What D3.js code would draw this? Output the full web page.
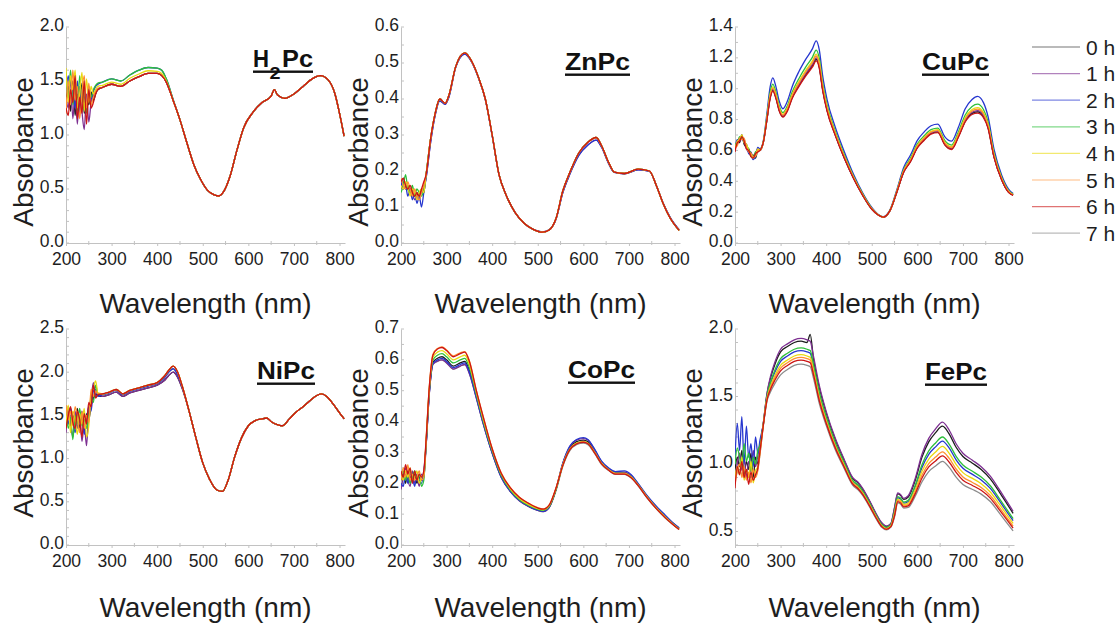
<!DOCTYPE html>
<html>
<head>
<meta charset="utf-8">
<script src="https://cdn.jsdelivr.net/npm/d3@7"></script>
<style>
  html, body { margin: 0; padding: 0; background: #ffffff; }
  svg { display: block; font-family: "Liberation Sans", Arial, sans-serif; }
</style>
</head>
<body>
<svg id="chart" width="1119" height="623"></svg>
<script>
// ---- shared labels ----
const hours = ["0 h", "1 h", "2 h", "3 h", "4 h", "5 h", "6 h", "7 h"];
const hourColors = ["#1c1c1c", "#7d2f91", "#2636cf", "#2cbf3a", "#e9da10", "#ff9030", "#cc1515", "#8c8c8c"];
const xTicks = [200, 300, 400, 500, 600, 700, 800];

// ---- H2Pc ----
const h2pcWl = [200,205,210,215,220,225,230,235,240,245,250,255,260,265,270,
  280,300,320,340,360,380,400,410,420,435,
  450,465,480,495,510,525,535,545,560,575,590,610,630,650,657,664,680,700,720,740,758,775,790,800,810];
const h2pcNoise0 = [1.30,1.45,1.22,1.50,1.18,1.38,1.25,1.48,1.20,1.35,1.28,1.40,1.32,1.38,1.42];
const h2pcNoise1 = [1.35,1.25,1.52,1.15,1.40,1.10,1.45,1.22,1.05,1.38,1.12,1.30,1.36,1.40,1.43];
const h2pcNoise2 = [1.40,1.55,1.30,1.45,1.25,1.50,1.20,1.42,1.35,1.28,1.45,1.33,1.40,1.45,1.47];
const h2pcNoise3 = [1.58,1.35,1.60,1.28,1.48,1.22,1.55,1.30,1.45,1.20,1.40,1.35,1.42,1.46,1.48];
const h2pcNoise4 = [1.62,1.30,1.55,1.42,1.60,1.25,1.38,1.58,1.22,1.52,1.30,1.45,1.38,1.42,1.45];
const h2pcNoise5 = [1.20,1.50,1.28,1.60,1.32,1.45,1.15,1.40,1.55,1.25,1.48,1.28,1.35,1.40,1.43];
const h2pcNoise6 = [1.25,1.18,1.42,1.30,1.55,1.15,1.35,1.20,1.50,1.10,1.42,1.25,1.30,1.38,1.42];
const h2pcNoise7 = [1.32,1.40,1.28,1.35,1.30,1.42,1.26,1.36,1.30,1.34,1.32,1.38,1.36,1.40,1.42];
const h2pcUvLow  = [1.44,1.47,1.45,1.50,1.54,1.57,1.57,1.55,1.49,1.32];
const h2pcUvMid  = [1.46,1.49,1.47,1.525,1.565,1.595,1.59,1.57,1.50,1.32];
const h2pcUvHigh = [1.49,1.52,1.50,1.555,1.60,1.625,1.62,1.60,1.52,1.33];
const h2pcVis = [1.14,0.93,0.73,0.59,0.49,0.445,0.435,0.47,0.62,0.86,1.07,1.21,1.30,1.36,1.42,1.37,1.34,1.38,1.45,1.52,1.55,1.51,1.38,1.20,0.99];

// ---- ZnPc ----
const znpcWl = [200,205,210,215,220,225,230,235,240,245,250,
  255,265,275,285,297,305,320,340,355,370,385,400,415,430,450,470,490,510,525,540,
  555,570,590,610,628,640,655,668,690,720,745,760,775,790,810];
const znpcNoise0 = [0.16,0.17,0.15,0.16,0.14,0.15,0.13,0.14,0.12,0.15,0.14];
const znpcNoise1 = [0.15,0.18,0.16,0.15,0.15,0.14,0.12,0.13,0.13,0.14,0.15];
const znpcNoise2 = [0.17,0.15,0.16,0.13,0.15,0.12,0.14,0.11,0.13,0.10,0.14];
const znpcNoise3 = [0.14,0.16,0.19,0.15,0.14,0.16,0.13,0.15,0.14,0.13,0.15];
const znpcNoise4 = [0.16,0.15,0.17,0.16,0.13,0.15,0.14,0.12,0.14,0.15,0.14];
const znpcNoise5 = [0.18,0.16,0.15,0.17,0.15,0.13,0.15,0.13,0.12,0.14,0.16];
const znpcNoise6 = [0.17,0.18,0.16,0.15,0.16,0.14,0.13,0.14,0.13,0.15,0.17];
const znpcNoise7 = [0.16,0.17,0.16,0.15,0.15,0.14,0.14,0.13,0.13,0.14,0.15];
const znpcBody = [0.19,0.29,0.36,0.40,0.388,0.41,0.49,0.528,0.505,0.46,
  0.40,0.30,0.19,0.135,0.085,0.055,0.038,0.030,0.036,0.068,
  0.145,0.195,0.25,0.28,0.293,0.27,0.225,0.197,0.193,0.205,
  0.200,0.16,0.11,0.07,0.035];
const znpcBodyLow = [0.18,0.28,0.355,0.395,0.385,0.405,0.488,0.525,0.503,0.458,
  0.398,0.298,0.19,0.135,0.085,0.055,0.038,0.031,0.037,0.066,
  0.14,0.19,0.243,0.272,0.286,0.266,0.222,0.196,0.192,0.203,
  0.199,0.16,0.111,0.072,0.037];

// ---- CuPc ----
const cupcWl = [200,205,210,215,220,225,230,235,240,245,250,
  255,262,270,277,283,290,297,305,315,325,340,355,370,378,385,392,402,420,440,460,
  480,500,515,525,540,555,570,585,600,615,630,645,660,675,690,705,720,732,745,755,
  768,785,800,810];
const cupcNoise0 = [0.60,0.66,0.65,0.70,0.64,0.62,0.61,0.56,0.57,0.55,0.60];
const cupcNoise1 = [0.63,0.64,0.68,0.67,0.67,0.61,0.59,0.59,0.55,0.58,0.61];
const cupcNoise2 = [0.62,0.67,0.66,0.69,0.65,0.64,0.58,0.57,0.54,0.56,0.62];
const cupcNoise3 = [0.64,0.65,0.69,0.68,0.66,0.63,0.61,0.58,0.56,0.59,0.60];
const cupcNoise4 = [0.61,0.66,0.67,0.70,0.65,0.64,0.60,0.57,0.55,0.57,0.61];
const cupcNoise5 = [0.62,0.63,0.68,0.67,0.68,0.62,0.59,0.58,0.56,0.56,0.60];
const cupcNoise6 = [0.59,0.65,0.66,0.69,0.66,0.61,0.60,0.56,0.55,0.58,0.59];
const cupcNoise7 = [0.62,0.65,0.67,0.68,0.66,0.63,0.60,0.58,0.56,0.57,0.60];
const cupcBody0 = [0.60,0.65,0.80,0.94,0.99,0.94,0.86,0.82,0.86,0.94,
  1.02,1.09,1.15,1.19,1.14,1.00,0.86,0.70,0.55,0.42,
  0.31,0.22,0.18,0.168,0.21,0.33,0.46,0.53,0.62,0.67,
  0.71,0.72,0.64,0.61,0.69,0.79,0.84,0.85,0.82,0.75,
  0.56,0.41,0.33,0.31];
const cupcBody1 = [0.60,0.65,0.803,0.946,0.996,0.946,0.865,0.824,0.865,0.946,
  1.027,1.098,1.159,1.20,1.149,1.007,0.866,0.704,0.553,0.422,
  0.311,0.221,0.18,0.168,0.21,0.331,0.462,0.533,0.624,0.674,
  0.714,0.724,0.644,0.614,0.695,0.796,0.847,0.858,0.827,0.756,
  0.564,0.412,0.332,0.311];
const cupcBody2 = [0.61,0.66,0.84,1.01,1.07,1.01,0.92,0.87,0.92,1.01,
  1.11,1.19,1.26,1.31,1.25,1.09,0.93,0.75,0.59,0.445,
  0.325,0.23,0.183,0.17,0.215,0.345,0.49,0.57,0.665,0.72,
  0.76,0.77,0.69,0.66,0.75,0.87,0.93,0.95,0.91,0.82,
  0.61,0.44,0.35,0.32];
const cupcBody3 = [0.605,0.655,0.82,0.975,1.03,0.975,0.89,0.845,0.89,0.975,
  1.065,1.14,1.205,1.25,1.195,1.045,0.895,0.725,0.57,0.432,
  0.318,0.225,0.182,0.169,0.212,0.338,0.475,0.55,0.643,0.695,
  0.735,0.745,0.665,0.635,0.72,0.83,0.885,0.90,0.865,0.785,
  0.585,0.425,0.34,0.315];
const cupcBody4 = [0.603,0.653,0.81,0.96,1.012,0.96,0.877,0.834,0.877,0.96,
  1.045,1.118,1.18,1.224,1.17,1.025,0.88,0.714,0.561,0.427,
  0.314,0.223,0.181,0.168,0.211,0.334,0.468,0.541,0.633,0.684,
  0.724,0.734,0.654,0.624,0.707,0.812,0.865,0.878,0.845,0.77,
  0.574,0.418,0.336,0.313];
const cupcBody5 = [0.602,0.652,0.807,0.953,1.004,0.953,0.871,0.829,0.871,0.953,
  1.036,1.108,1.17,1.212,1.16,1.016,0.873,0.709,0.557,0.425,
  0.313,0.222,0.18,0.168,0.211,0.333,0.465,0.537,0.628,0.679,
  0.719,0.729,0.649,0.619,0.701,0.804,0.856,0.868,0.836,0.763,
  0.569,0.415,0.334,0.312];
const cupcBody6 = [0.60,0.65,0.797,0.934,0.984,0.934,0.855,0.816,0.855,0.934,
  1.013,1.082,1.141,1.18,1.131,0.993,0.854,0.696,0.547,0.418,
  0.309,0.219,0.18,0.168,0.21,0.329,0.458,0.527,0.616,0.666,
  0.706,0.716,0.636,0.606,0.685,0.784,0.833,0.842,0.813,0.744,
  0.556,0.408,0.328,0.309];
const cupcBody7 = [0.60,0.65,0.80,0.942,0.992,0.942,0.862,0.821,0.862,0.942,
  1.022,1.093,1.153,1.192,1.142,1.002,0.861,0.701,0.551,0.421,
  0.31,0.22,0.18,0.168,0.21,0.33,0.46,0.531,0.621,0.671,
  0.711,0.721,0.641,0.611,0.691,0.791,0.841,0.852,0.821,0.751,
  0.561,0.41,0.33,0.31];

// ---- NiPc ----
const nipcWl = [200,205,210,215,220,225,230,235,240,245,250,255,260,265,270,
  280,295,310,325,340,360,380,400,415,425,435,445,455,
  470,485,500,515,530,543,555,570,585,600,615,630,640,652,665,675,690,705,720,735,750,760,772,785,800,810];
const nipcNoise0 = [1.45,1.55,1.38,1.50,1.42,1.58,1.35,1.48,1.30,1.52,1.45,1.62,1.70,1.75,1.73];
const nipcNoise1 = [1.30,1.60,1.42,1.25,1.55,1.35,1.50,1.20,1.40,1.15,1.55,1.68,1.88,1.72,1.74];
const nipcNoise2 = [1.50,1.40,1.58,1.45,1.30,1.52,1.42,1.55,1.28,1.45,1.60,1.55,1.78,1.80,1.72];
const nipcNoise3 = [1.55,1.35,1.48,1.22,1.50,1.40,1.58,1.38,1.45,1.35,1.50,1.70,1.65,1.85,1.75];
const nipcNoise4 = [1.40,1.62,1.30,1.55,1.45,1.28,1.52,1.40,1.58,1.25,1.38,1.75,1.82,1.90,1.76];
const nipcNoise5 = [1.62,1.45,1.55,1.38,1.60,1.48,1.30,1.55,1.35,1.50,1.42,1.80,1.72,1.78,1.75];
const nipcNoise6 = [1.35,1.50,1.60,1.42,1.35,1.55,1.45,1.25,1.52,1.40,1.65,1.60,1.85,1.70,1.74];
const nipcNoise7 = [1.48,1.42,1.50,1.46,1.44,1.48,1.45,1.42,1.44,1.46,1.52,1.62,1.70,1.74,1.74];
const nipcUvLow  = [1.72,1.74,1.77,1.72,1.76,1.79,1.82,1.85,1.90,1.96,2.00,1.94,1.81];
const nipcUvMid  = [1.74,1.76,1.79,1.74,1.78,1.81,1.84,1.87,1.93,2.00,2.04,1.97,1.83];
const nipcUvHigh = [1.75,1.77,1.80,1.75,1.79,1.82,1.85,1.88,1.95,2.02,2.07,2.00,1.84];
const nipcVis = [1.55,1.24,0.95,0.76,0.64,0.62,0.74,1.02,1.24,1.38,
  1.44,1.46,1.47,1.42,1.39,1.38,1.46,1.54,1.60,1.67,
  1.73,1.75,1.72,1.64,1.53,1.46];

// ---- CoPc ----
const copcWl = [200,205,210,215,220,225,230,235,240,245,250,
  255,262,270,280,290,300,315,330,340,350,365,380,400,420,440,460,480,500,512,525,
  540,555,570,585,600,610,625,640,655,670,690,705,720,740,760,780,795,810];
const copcNoise0 = [0.21,0.23,0.20,0.24,0.22,0.21,0.23,0.20,0.22,0.21,0.23];
const copcNoise1 = [0.18,0.22,0.25,0.21,0.19,0.24,0.20,0.22,0.19,0.23,0.22];
const copcNoise2 = [0.20,0.19,0.23,0.20,0.24,0.22,0.19,0.23,0.21,0.20,0.24];
const copcNoise3 = [0.22,0.24,0.21,0.23,0.20,0.22,0.24,0.21,0.23,0.19,0.21];
const copcNoise4 = [0.23,0.21,0.24,0.22,0.25,0.21,0.22,0.24,0.20,0.22,0.23];
const copcNoise5 = [0.21,0.25,0.22,0.26,0.21,0.23,0.21,0.22,0.24,0.21,0.22];
const copcNoise6 = [0.24,0.22,0.26,0.23,0.25,0.20,0.24,0.21,0.23,0.22,0.24];
const copcNoise7 = [0.22,0.23,0.22,0.22,0.23,0.22,0.22,0.23,0.22,0.21,0.22];
const copcBody0 = [0.325,0.495,0.592,0.605,0.61,0.60,0.58,0.59,0.595,0.565,
  0.484,0.40,0.301,0.222,0.175,0.145,0.126,0.114,0.11,0.123,
  0.18,0.262,0.314,0.335,0.34,0.335,0.303,0.267,0.247,0.234,
  0.234,0.222,0.197,0.157,0.122,0.092,0.072,0.054];
const copcBody1 = [0.32,0.488,0.585,0.596,0.60,0.59,0.57,0.58,0.585,0.555,
  0.478,0.395,0.298,0.219,0.173,0.143,0.125,0.112,0.108,0.122,
  0.181,0.265,0.318,0.34,0.345,0.34,0.308,0.27,0.249,0.236,
  0.236,0.225,0.198,0.158,0.124,0.094,0.073,0.055];
const copcBody2 = [0.32,0.49,0.588,0.60,0.605,0.595,0.575,0.585,0.59,0.56,
  0.48,0.397,0.299,0.22,0.174,0.144,0.126,0.113,0.109,0.123,
  0.182,0.266,0.32,0.342,0.348,0.342,0.31,0.272,0.25,0.238,
  0.24,0.228,0.2,0.16,0.126,0.096,0.074,0.056];
const copcBody3 = [0.33,0.50,0.60,0.615,0.62,0.61,0.59,0.60,0.605,0.575,
  0.49,0.405,0.305,0.225,0.178,0.147,0.128,0.116,0.112,0.125,
  0.18,0.26,0.31,0.33,0.335,0.33,0.30,0.265,0.245,0.232,
  0.232,0.22,0.195,0.155,0.12,0.09,0.07,0.052];
const copcBody4 = [0.335,0.505,0.608,0.625,0.63,0.62,0.60,0.61,0.615,0.585,
  0.496,0.41,0.309,0.229,0.181,0.15,0.131,0.118,0.114,0.127,
  0.182,0.26,0.31,0.33,0.335,0.33,0.30,0.265,0.245,0.232,
  0.232,0.22,0.195,0.155,0.12,0.09,0.07,0.052];
const copcBody5 = [0.34,0.51,0.618,0.637,0.642,0.632,0.613,0.623,0.627,0.597,
  0.503,0.418,0.313,0.233,0.186,0.155,0.135,0.121,0.117,0.13,
  0.185,0.26,0.309,0.329,0.334,0.329,0.299,0.264,0.244,0.231,
  0.231,0.219,0.194,0.154,0.119,0.089,0.069,0.051];
const copcBody6 = [0.34,0.51,0.615,0.635,0.64,0.63,0.61,0.62,0.625,0.595,
  0.502,0.417,0.312,0.232,0.185,0.154,0.135,0.12,0.116,0.129,
  0.184,0.258,0.308,0.328,0.333,0.328,0.298,0.263,0.243,0.23,
  0.23,0.218,0.193,0.153,0.118,0.088,0.068,0.05];
const copcBody7 = [0.322,0.49,0.585,0.595,0.60,0.59,0.57,0.58,0.585,0.556,
  0.477,0.394,0.297,0.219,0.173,0.143,0.124,0.112,0.108,0.121,
  0.176,0.255,0.305,0.325,0.33,0.325,0.296,0.261,0.242,0.229,
  0.229,0.217,0.192,0.152,0.117,0.087,0.068,0.05];

// ---- FePc ----
const fepcWl = [200,205,210,215,220,225,230,235,240,245,250,255,
  262,270,278,288,300,315,330,345,358,365,372,385,400,420,440,458,470,480,495,510,
  522,532,542,550,557,563,570,580,595,610,625,640,655,670,685,700,720,740,760,780,795,810];
const fepcNoise0 = [0.95,1.05,0.98,1.10,0.92,1.02,0.96,1.08,0.90,1.05,1.00,1.12];
const fepcNoise1 = [0.92,1.00,1.08,0.95,1.05,0.90,1.02,0.94,1.10,0.98,1.06,1.15];
const fepcNoise2 = [1.05,1.30,1.10,1.35,1.00,1.28,1.05,1.15,0.98,1.20,1.08,1.18];
const fepcNoise3 = [1.00,1.12,1.05,0.98,1.15,1.02,1.08,0.95,1.05,1.00,1.10,1.14];
const fepcNoise4 = [0.90,0.98,0.92,1.05,0.88,0.96,0.90,1.02,0.86,0.95,0.98,1.10];
const fepcNoise5 = [0.85,0.95,1.00,0.90,0.98,0.88,0.94,0.86,0.96,0.90,0.95,1.08];
const fepcNoise6 = [0.82,0.98,0.92,1.02,0.90,0.96,0.85,0.94,0.88,0.92,0.97,1.10];
const fepcNoise7 = [0.88,0.94,0.96,0.92,0.95,0.90,0.92,0.90,0.93,0.91,0.96,1.08];
const fepcBody0 = [1.298,1.514,1.638,1.743,1.83,1.87,1.90,1.91,1.90,1.96,
  1.783,1.566,1.379,1.181,1.023,0.894,0.859,0.814,0.725,0.626,
  0.561,0.537,0.557,0.673,0.778,0.768,0.738,0.756,0.876,1.049,
  1.164,1.232,1.28,1.221,1.124,1.056,1.008,0.959,0.89,0.792,
  0.714,0.635];
const fepcBody1 = [1.30,1.52,1.65,1.76,1.85,1.89,1.92,1.93,1.92,1.91,
  1.80,1.58,1.39,1.19,1.03,0.90,0.865,0.82,0.73,0.63,
  0.565,0.54,0.56,0.68,0.785,0.775,0.745,0.765,0.89,1.07,
  1.19,1.26,1.31,1.25,1.15,1.08,1.03,0.98,0.91,0.81,
  0.73,0.65];
const fepcBody2 = [1.291,1.493,1.596,1.684,1.76,1.80,1.83,1.84,1.83,1.82,
  1.724,1.517,1.341,1.15,0.999,0.873,0.838,0.795,0.708,0.612,
  0.549,0.527,0.547,0.645,0.75,0.74,0.71,0.723,0.827,0.972,
  1.071,1.127,1.17,1.117,1.031,0.968,0.925,0.882,0.819,0.726,
  0.653,0.58];
const fepcBody3 = [1.293,1.499,1.608,1.70,1.78,1.82,1.85,1.86,1.85,1.84,
  1.74,1.531,1.352,1.159,1.006,0.879,0.844,0.80,0.713,0.616,
  0.552,0.53,0.55,0.653,0.758,0.748,0.718,0.732,0.84,0.993,
  1.097,1.156,1.20,1.146,1.057,0.992,0.948,0.903,0.839,0.744,
  0.67,0.595];
const fepcBody4 = [1.288,1.484,1.578,1.658,1.73,1.77,1.80,1.81,1.80,1.79,
  1.698,1.496,1.324,1.136,0.988,0.864,0.829,0.786,0.70,0.606,
  0.543,0.522,0.542,0.635,0.74,0.73,0.70,0.711,0.809,0.944,
  1.037,1.089,1.13,1.079,0.997,0.936,0.895,0.854,0.793,0.702,
  0.631,0.56];
const fepcBody5 = [1.286,1.478,1.566,1.641,1.71,1.75,1.78,1.79,1.78,1.77,
  1.681,1.482,1.313,1.127,0.981,0.858,0.823,0.781,0.695,0.602,
  0.54,0.519,0.539,0.625,0.73,0.72,0.69,0.699,0.791,0.916,
  1.003,1.051,1.09,1.041,0.963,0.904,0.865,0.826,0.767,0.678,
  0.609,0.54];
const fepcBody6 = [1.284,1.472,1.554,1.624,1.69,1.73,1.76,1.77,1.76,1.75,
  1.664,1.468,1.302,1.118,0.974,0.852,0.817,0.775,0.69,0.598,
  0.536,0.516,0.536,0.617,0.722,0.712,0.682,0.69,0.777,0.895,
  0.978,1.023,1.06,1.013,0.938,0.88,0.843,0.805,0.747,0.66,
  0.593,0.525];
const fepcBody7 = [1.281,1.463,1.536,1.599,1.66,1.70,1.73,1.74,1.73,1.72,
  1.639,1.447,1.286,1.105,0.964,0.843,0.808,0.767,0.683,0.592,
  0.531,0.512,0.532,0.608,0.713,0.703,0.673,0.678,0.76,0.867,
  0.944,0.985,1.02,0.975,0.903,0.848,0.813,0.777,0.722,0.636,
  0.57,0.505];

// ---- panel definitions (series listed 0 h ... 7 h) ----
const panels = [
  { title: "H2Pc", wl: h2pcWl, yDomain: [0, 2.0], yTicks: [0, 0.5, 1.0, 1.5, 2.0], minor: 0.1,
    col: 0, row: 0, tx: 253, ty: 67, tw: 60,
    series: [
      [...h2pcNoise0, ...h2pcUvLow, ...h2pcVis],
      [...h2pcNoise1, ...h2pcUvLow, ...h2pcVis],
      [...h2pcNoise2, ...h2pcUvHigh, ...h2pcVis],
      [...h2pcNoise3, ...h2pcUvHigh, ...h2pcVis],
      [...h2pcNoise4, ...h2pcUvMid, ...h2pcVis],
      [...h2pcNoise5, ...h2pcUvLow, ...h2pcVis],
      [...h2pcNoise6, ...h2pcUvLow, ...h2pcVis],
      [...h2pcNoise7, ...h2pcUvLow, ...h2pcVis]] },
  { title: "ZnPc", wl: znpcWl, yDomain: [0, 0.6], yTicks: [0, 0.1, 0.2, 0.3, 0.4, 0.5, 0.6], minor: 0.05,
    col: 1, row: 0, tx: 565, ty: 70, tw: 65,
    series: [
      [...znpcNoise0, ...znpcBody],
      [...znpcNoise1, ...znpcBodyLow],
      [...znpcNoise2, ...znpcBodyLow],
      [...znpcNoise3, ...znpcBody],
      [...znpcNoise4, ...znpcBody],
      [...znpcNoise5, ...znpcBody],
      [...znpcNoise6, ...znpcBody],
      [...znpcNoise7, ...znpcBody]] },
  { title: "CuPc", wl: cupcWl, yDomain: [0, 1.4], yTicks: [0, 0.2, 0.4, 0.6, 0.8, 1.0, 1.2, 1.4], minor: 0.1,
    col: 2, row: 0, tx: 922, ty: 70, tw: 67,
    series: [
      [...cupcNoise0, ...cupcBody0],
      [...cupcNoise1, ...cupcBody1],
      [...cupcNoise2, ...cupcBody2],
      [...cupcNoise3, ...cupcBody3],
      [...cupcNoise4, ...cupcBody4],
      [...cupcNoise5, ...cupcBody5],
      [...cupcNoise6, ...cupcBody6],
      [...cupcNoise7, ...cupcBody7]] },
  { title: "NiPc", wl: nipcWl, yDomain: [0, 2.5], yTicks: [0, 0.5, 1.0, 1.5, 2.0, 2.5], minor: 0.1,
    col: 0, row: 1, tx: 257, ty: 379, tw: 58,
    series: [
      [...nipcNoise0, ...nipcUvLow, ...nipcVis],
      [...nipcNoise1, ...nipcUvLow, ...nipcVis],
      [...nipcNoise2, ...nipcUvMid, ...nipcVis],
      [...nipcNoise3, ...nipcUvHigh, ...nipcVis],
      [...nipcNoise4, ...nipcUvHigh, ...nipcVis],
      [...nipcNoise5, ...nipcUvHigh, ...nipcVis],
      [...nipcNoise6, ...nipcUvHigh, ...nipcVis],
      [...nipcNoise7, ...nipcUvMid, ...nipcVis]] },
  { title: "CoPc", wl: copcWl, yDomain: [0, 0.7], yTicks: [0, 0.1, 0.2, 0.3, 0.4, 0.5, 0.6, 0.7], minor: 0.05,
    col: 1, row: 1, tx: 568, ty: 378, tw: 67,
    series: [
      [...copcNoise0, ...copcBody0],
      [...copcNoise1, ...copcBody1],
      [...copcNoise2, ...copcBody2],
      [...copcNoise3, ...copcBody3],
      [...copcNoise4, ...copcBody4],
      [...copcNoise5, ...copcBody5],
      [...copcNoise6, ...copcBody6],
      [...copcNoise7, ...copcBody7]] },
  { title: "FePc", wl: fepcWl, yDomain: [0.4, 2.0], yTicks: [0.5, 1.0, 1.5, 2.0], minor: 0.1,
    col: 2, row: 1, tx: 925, ty: 380, tw: 62,
    series: [
      [...fepcNoise0, ...fepcBody0],
      [...fepcNoise1, ...fepcBody1],
      [...fepcNoise2, ...fepcBody2],
      [...fepcNoise3, ...fepcBody3],
      [...fepcNoise4, ...fepcBody4],
      [...fepcNoise5, ...fepcBody5],
      [...fepcNoise6, ...fepcBody6],
      [...fepcNoise7, ...fepcBody7]] }
];

// ---- layout ----
const colLeft = [66, 401, 735];
const rowTop = [27, 329];
const plotW = 279, plotH = 216;
const xDomain = [200, 812];
const axisColor = "#c2c2c2";
const textColor = "#1e1e1e";
const drawOrder = [7, 0, 1, 2, 3, 4, 5, 6];
const tickFont = "17.5px";

const svg = d3.select("#chart");
svg.append("rect").attr("width", 1119).attr("height", 623).attr("fill", "#ffffff");

panels.forEach((p, pi) => {
  const left = colLeft[p.col], top = rowTop[p.row];
  const x = d3.scaleLinear().domain(xDomain).range([left, left + plotW]);
  const y = d3.scaleLinear().domain(p.yDomain).range([top + plotH, top]);
  const g = svg.append("g").attr("class", "panel");

  // clip region for the traces
  const clipId = "clip" + pi;
  svg.append("clipPath").attr("id", clipId)
    .append("rect").attr("x", left).attr("y", top - 2).attr("width", plotW + 1).attr("height", plotH + 2);

  // minor ticks on both axes
  const xMinor = d3.range(250, 812, 100);
  g.selectAll(".xm").data(xMinor).join("line")
    .attr("x1", d => x(d)).attr("x2", d => x(d))
    .attr("y1", top + plotH - 2).attr("y2", top + plotH + 2)
    .attr("stroke", axisColor).attr("stroke-width", 1);
  const yMinor = d3.range(p.yDomain[0], p.yDomain[1] + 1e-9, p.minor);
  g.selectAll(".ym").data(yMinor).join("line")
    .attr("x1", left).attr("x2", left + 3)
    .attr("y1", d => y(d)).attr("y2", d => y(d))
    .attr("stroke", axisColor).attr("stroke-width", 1);

  // x axis
  const xAxis = g.append("g").attr("transform", `translate(0,${top + plotH})`)
    .call(d3.axisBottom(x).tickValues(xTicks).tickSize(3).tickSizeOuter(0).tickPadding(7).tickFormat(d3.format("d")));
  xAxis.select(".domain").attr("stroke", axisColor);
  xAxis.selectAll(".tick line").attr("stroke", axisColor);
  xAxis.selectAll("text").attr("fill", textColor).style("font-size", tickFont)
    .style("font-family", "'Liberation Sans', Arial, sans-serif");

  // y axis
  const yAxis = g.append("g").attr("transform", `translate(${left},0)`)
    .call(d3.axisLeft(y).tickValues(p.yTicks).tickSize(0).tickSizeOuter(0).tickPadding(2).tickFormat(d3.format(".1f")));
  yAxis.select(".domain").attr("stroke", axisColor);
  yAxis.selectAll("text").attr("fill", textColor).attr("dy", "0.22em").style("font-size", tickFont)
    .style("font-family", "'Liberation Sans', Arial, sans-serif");

  // traces
  const line = d3.line()
    .x((d, i) => x(p.wl[i]))
    .y(d => y(d))
    .curve(d3.curveMonotoneX);
  const traces = g.append("g").attr("clip-path", `url(#${clipId})`);
  drawOrder.forEach(k => {
    traces.append("path")
      .attr("d", line(p.series[k]))
      .attr("fill", "none")
      .attr("stroke", hourColors[k])
      .attr("stroke-width", 1.3)
      .attr("stroke-linejoin", "round");
  });

  // axis titles
  g.append("text")
    .attr("x", left + plotW / 2).attr("y", p.row === 0 ? 313 : 617)
    .attr("text-anchor", "middle").attr("fill", textColor)
    .style("font-size", "28px").text("Wavelength (nm)");
  g.append("text")
    .attr("transform", `translate(${left - 33},${p.row === 0 ? 152 : 443}) rotate(-90)`)
    .attr("text-anchor", "middle").attr("fill", textColor)
    .style("font-size", "28px").text("Absorbance");

  // compound label, bold and underlined
  const lab = g.append("g").attr("fill", "#111").style("font-weight", "bold");
  if (p.title === "H2Pc") {
    lab.append("text").attr("x", p.tx).attr("y", p.ty).style("font-size", "24px")
      .attr("textLength", 16).attr("lengthAdjust", "spacingAndGlyphs").text("H");
    lab.append("text").attr("x", p.tx + 16.5).attr("y", p.ty + 12).style("font-size", "17px")
      .attr("textLength", 11).attr("lengthAdjust", "spacingAndGlyphs").text("2");
    lab.append("text").attr("x", p.tx + 29).attr("y", p.ty).style("font-size", "24px")
      .attr("textLength", p.tw - 29).attr("lengthAdjust", "spacingAndGlyphs").text("Pc");
  } else {
    lab.append("text").attr("x", p.tx).attr("y", p.ty).style("font-size", "24px")
      .attr("textLength", p.tw).attr("lengthAdjust", "spacingAndGlyphs").text(p.title);
  }
  lab.append("rect").attr("x", p.tx).attr("y", p.ty + 3.5).attr("width", p.tw).attr("height", 2.4).attr("fill", "#111");
});

// ---- legend ----
const legend = svg.append("g").attr("class", "legend");
hours.forEach((h, i) => {
  const ly = 47 + i * 26.6;
  legend.append("line")
    .attr("x1", 1032).attr("x2", 1080).attr("y1", ly).attr("y2", ly)
    .attr("stroke", hourColors[i]).attr("stroke-width", 1.2).attr("stroke-opacity", 0.6);
  legend.append("text")
    .attr("x", 1086).attr("y", ly).attr("dy", "0.36em")
    .attr("fill", textColor).style("font-size", "21px").text(h);
});
</script>
</body>
</html>
